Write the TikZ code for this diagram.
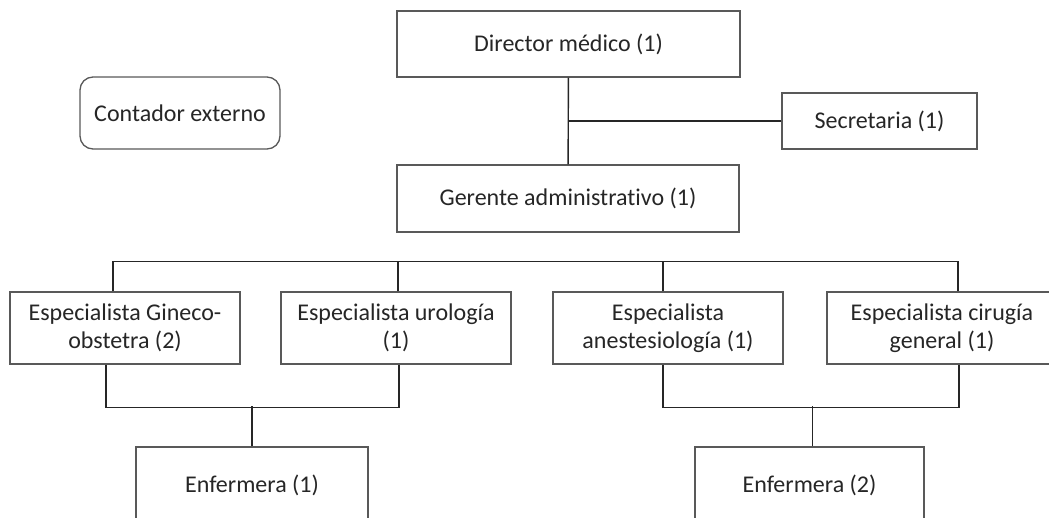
\documentclass[tikz,border=0pt]{standalone}
\usepackage{fontspec}
\setmainfont{Carlito}[Ligatures=NoCommon]
\usetikzlibrary{positioning, calc}

\begin{document}
\begin{tikzpicture}[x=1pt, y=1pt, font=\fontsize{24}{28}\selectfont,
	box/.style={draw=black!65, line width=1.3pt, fill=white, text=black!85, align=center, inner sep=0pt},
	link/.style={black!85, line width=1.4pt}]
			\useasboundingbox (0,0) rectangle (1049,517);
			\clip (0,0) rectangle (1049,517);
			\node[box, minimum width=343, minimum height=66] (dir) at (568.5,473) {Director médico (1)};
			\node[box, rounded corners=13pt, minimum width=200, minimum height=72] (cont) at (180,404) {Contador externo};
			\node[box, minimum width=195, minimum height=56] (sec) at (879.5,396) {Secretaria (1)};
			\node[box, minimum width=342, minimum height=67] (ger) at (568,318.5) {Gerente administrativo (1)};
			\node[box, minimum width=230, minimum height=72] (gin) at (125,189) {Especialista Gineco-\\obstetra (2)};
			\node[box, minimum width=230, minimum height=72] (uro) at (396,189) {Especialista urología\\(1)};
			\node[box, minimum width=230, minimum height=72] (ane) at (668,189) {Especialista\\anestesiología (1)};
			\node[box, minimum width=230, minimum height=72] (cir) at (942,189) {Especialista cirugía\\general (1)};
			\node[box, minimum width=232, minimum height=76] (enfa) at (252,32) {Enfermera (1)};
			\node[box, minimum width=229, minimum height=76] (enfb) at (809.5,32) {Enfermera (2)};
			\draw[link] (dir) -- (ger);
			\draw[link] (sec) -- (sec -| dir);
			\draw[link] ([xshift=-12]gin.north) -- ++(0,30) -| ([xshift=16]cir.north);
			\draw[link] ([xshift=2]uro.north) -- ++(0,30);
			\draw[link] ([xshift=-5]ane.north) -- ++(0,30);
			\draw[link] ([xshift=-19]gin.south) -- ++(0,-43) -| ([xshift=3]uro.south);
			\draw[link] (enfa.north) -- ++(0,40);
			\draw[link] ([xshift=-5]ane.south) -- ++(0,-43) -| ([xshift=17]cir.south);
			\draw[link] ([xshift=3]enfb.north) -- ++(0,40);
		\end{tikzpicture}
\end{document}
